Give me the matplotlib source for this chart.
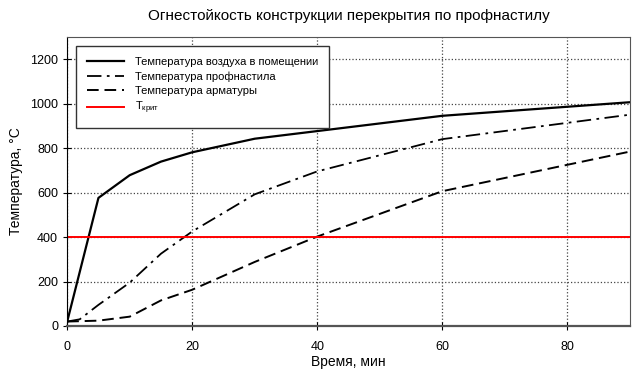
import matplotlib
matplotlib.use("Agg")
from matplotlib import pyplot as plt

plt.rcParams['font.family'] = ['Liberation Sans', 'DejaVu Sans']
plt.rcParams['mathtext.fontset'] = 'custom'
plt.rcParams['mathtext.rm'] = 'Liberation Sans'
plt.rcParams['mathtext.it'] = 'Liberation Sans'

# time points, minutes
t_air = [0, 5, 10, 15, 20, 30, 60, 90]
temp_air = [20, 576, 678, 739, 781, 842, 945, 1006]

t_deck = [0, 2, 5, 10, 15, 20, 30, 40, 60, 90]
temp_deck = [20, 30, 95, 195, 325, 425, 592, 695, 840, 950]

t_rebar = [0, 5, 10, 15, 20, 30, 40, 60, 90]
temp_rebar = [20, 24, 42, 115, 163, 288, 402, 606, 784]

t_crit = 400

x_ticks = [0, 20, 40, 60, 80]
y_ticks = [0, 200, 400, 600, 800, 1000, 1200]

fig = plt.figure(figsize=(6.4, 3.76), dpi=100)
ax = fig.add_axes([0.105, 0.133, 0.879, 0.769])

ax.plot(t_air, temp_air, color='black', lw=1.6, label='Температура воздуха в помещении')
ax.plot(t_deck, temp_deck, color='black', lw=1.3, ls=(0, (8, 3, 1.5, 3)), label='Температура профнастила')
ax.plot(t_rebar, temp_rebar, color='black', lw=1.4, ls=(0, (6, 3)), label='Температура арматуры')
ax.axhline(t_crit, color='#ff0000', lw=1.4, label='Т$_{\\mathrm{крит}}$')

ax.set_xlim(0, 90)
ax.set_ylim(0, 1300)
ax.set_xticks(x_ticks)
ax.set_yticks(y_ticks)
ax.grid(True, ls=':', color='#444444', lw=0.9)
ax.tick_params(direction='inout', length=6, labelsize=9)
ax.tick_params(axis='x', pad=8)

for side in ['top', 'right', 'bottom']:
    ax.spines[side].set_color('#555555')
ax.spines['bottom'].set_linewidth(1.6)

ax.set_xlabel('Время, мин', fontsize=10, labelpad=1)
ax.set_ylabel('Температура, °С', fontsize=10, labelpad=5)
ax.set_title('Огнестойкость конструкции перекрытия по профнастилу', fontsize=11, pad=12)

ax.legend(loc='upper left', fontsize=8, frameon=True, fancybox=False,
          edgecolor='#333333', framealpha=1, handlelength=3.3, handletextpad=1.0,
          borderaxespad=0.8, borderpad=1.0, labelspacing=0.38)

fig.savefig('out.png', dpi=100)
